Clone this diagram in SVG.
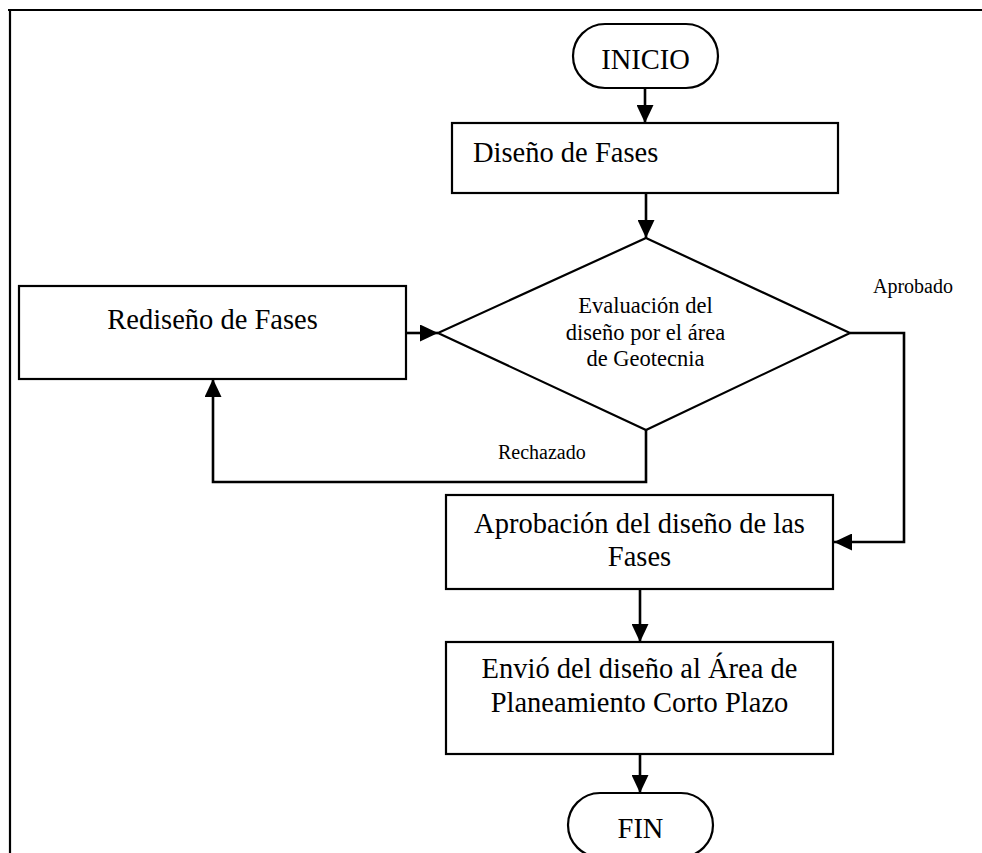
<svg xmlns="http://www.w3.org/2000/svg" width="982" height="853" viewBox="0 0 982 853">
<style>
.shape{fill:#fff;stroke:#000;stroke-width:2.2}
.conn{fill:none;stroke:#000;stroke-width:2.6}
.t{font-family:"Liberation Serif","Times New Roman",serif;fill:#000}
.big{font-size:28.5px}
.mid{font-size:22.5px}
.sm{font-size:20px}
</style>
<defs>
<marker id="ah" markerUnits="userSpaceOnUse" markerWidth="18" markerHeight="17" refX="18" refY="8.5" orient="auto">
<path d="M0,0 L18,8.5 L0,17 z" fill="#000"/>
</marker>
</defs>
<rect x="0" y="0" width="982" height="853" fill="#fff"/>
<g id="frame">
<path d="M8,10 H982 M10,10 V853" fill="none" stroke="#000" stroke-width="2.2"/>
</g>
<g id="connectors">
<path class="conn" d="M645,88 V123" marker-end="url(#ah)"/>
<path class="conn" d="M646,193 V238" marker-end="url(#ah)"/>
<path class="conn" d="M406,333 H438" marker-end="url(#ah)"/>
<path class="conn" d="M646,430 V482 H213 V379" marker-end="url(#ah)"/>
<path class="conn" d="M850,333 H904 V542 H834" marker-end="url(#ah)"/>
<path class="conn" d="M640,589 V642" marker-end="url(#ah)"/>
<path class="conn" d="M640,754 V793" marker-end="url(#ah)"/>
</g>
<g id="inicio">
<rect class="shape" x="573" y="24" width="145" height="64" rx="32" ry="32"/>
<text class="t big" x="645.5" y="69" text-anchor="middle">INICIO</text>
</g>
<g id="diseno">
<rect class="shape" x="452" y="123" width="386" height="70"/>
<text class="t big" x="473" y="162">Diseño de Fases</text>
</g>
<g id="evaluacion">
<polygon class="shape" points="646,238 850,333 646,430 438,333"/>
<text class="t mid" text-anchor="middle"><tspan x="645.5" y="313">Evaluación del</tspan><tspan x="645.5" y="340">diseño por el área</tspan><tspan x="645.5" y="366">de Geotecnia</tspan></text>
</g>
<g id="rediseno">
<rect class="shape" x="19" y="286" width="387" height="93"/>
<text class="t big" x="212.5" y="329" text-anchor="middle">Rediseño de Fases</text>
</g>
<g id="aprobacion">
<rect class="shape" x="446" y="495" width="387" height="94"/>
<text class="t big" text-anchor="middle"><tspan x="639.5" y="533">Aprobación del diseño de las</tspan><tspan x="639.5" y="566">Fases</tspan></text>
</g>
<g id="envio">
<rect class="shape" x="446" y="642" width="387" height="112"/>
<text class="t big" text-anchor="middle"><tspan x="639.5" y="678">Envió del diseño al Área de</tspan><tspan x="639.5" y="712">Planeamiento Corto Plazo</tspan></text>
</g>
<g id="fin">
<rect class="shape" x="568" y="793" width="145" height="64" rx="32" ry="32"/>
<text class="t big" x="640.5" y="838" text-anchor="middle">FIN</text>
</g>
<g id="labels">
<text class="t sm" x="498" y="459">Rechazado</text>
<text class="t sm" x="873" y="293">Aprobado</text>
</g>
</svg>
